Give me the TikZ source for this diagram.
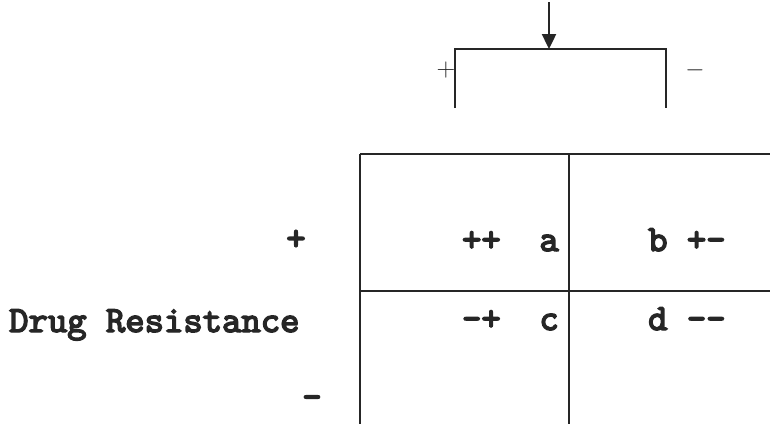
\documentclass[tikz,border=0pt]{standalone}
\usepackage{fontspec}
\newfontfamily\cellfont{lmmono10-regular.otf}[FakeBold=4]
\usetikzlibrary{arrows.meta,positioning}

\tikzset{
  gridline/.style={line width=1.3bp, black!85},
  celltext/.style={inner sep=0pt, font=\cellfont\fontsize{37}{40}\selectfont, text=black!85},
  signtext/.style={inner sep=0pt, font=\fontsize{26}{26}\selectfont, text=black!85}
}

\begin{document}
\begin{tikzpicture}[x=1bp, y=-1bp]
  \useasboundingbox (0,0) rectangle (770,424);
  % treatment bracket on top
  \coordinate (arrtop) at (549,2);
  \coordinate (arrtip) at (549,49);
  \coordinate (brl) at (455,49);
  \coordinate (brr) at (666,49);
  \coordinate (brlb) at (455,108);
  \coordinate (brrb) at (666,108);
  \draw[gridline] (brlb) -- (brl) -- (brr) -- (brrb);
  \draw[line width=2.4bp, black!85, -{Triangle[length=15bp,width=14bp]}] (arrtop) -- (arrtip);
  \node[signtext] (bplus) at (446,70) {+};
  \node[signtext] (bminus) at (695,70) {$-$};
  % table grid
  \coordinate (tl) at (360,154);
  \coordinate (tm) at (569,154);
  \coordinate (tr) at (770,154);
  \coordinate (ml) at (360,291);
  \coordinate (mr) at (770,291);
  \coordinate (bl) at (360,424);
  \coordinate (bm) at (569,424);
  \draw[gridline] (tl) -- (tr);
  \draw[gridline] (ml) -- (mr);
  \draw[gridline] (tl) -- (bl);
  \draw[gridline] (tm) -- (bm);
  % cells
  \node[celltext, anchor=base east] (cella) at (559,251) {++~~a};
  \node[celltext, anchor=base west] (cellb) at (648,251) {b~+-};
  \node[celltext, anchor=base east] (cellc) at (559,330) {-+~~c};
  \node[celltext, anchor=base west] (celld) at (648,330) {d~--};
  % row labels
  \node[celltext] (rplus) at (296,240) {+};
  \node[celltext, anchor=base west] (drug) at (9,332) {Drug Resistance};
  \node[celltext] (rminus) at (312,402) {-};
\end{tikzpicture}
\end{document}
